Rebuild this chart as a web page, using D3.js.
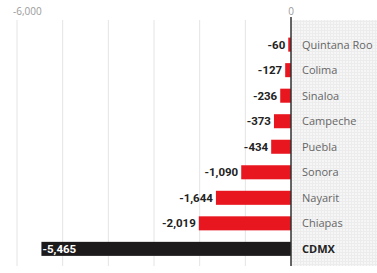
<!DOCTYPE html>
<html>
<head>
<meta charset="utf-8">
<script src="https://cdn.jsdelivr.net/npm/d3@7"></script>
<style>
  html, body { margin: 0; padding: 0; background: #fff; }
  svg { display: block; }
</style>
</head>
<body>
<svg id="chart"></svg>
<script>
'use strict';

const states = ['Quintana Roo', 'Colima', 'Sinaloa', 'Campeche', 'Puebla', 'Sonora', 'Nayarit', 'Chiapas', 'CDMX'];
const values = [-60, -127, -236, -373, -434, -1090, -1644, -2019, -5465];
const gridTicks = [-6000, -5000, -4000, -3000, -2000, -1000];
const tickLabels = [-6000, 0];

const width = 377;
const height = 273;
const fmt = d3.formatLocale({decimal: '.', thousands: ',', grouping: [3], currency: ['', ''], minus: '-'}).format(',');

const svg = d3.select('#chart')
    .attr('width', width)
    .attr('height', height);

const x = d3.scaleLinear()
    .domain([-6000, 0])
    .range([17, 291]);

const y = d3.scaleBand()
    .domain(states)
    .range([32, 261.5])
    .paddingInner(0.45)
    .paddingOuter(0.22);

// dotted panel on the right
const defs = svg.append('defs');
const pat = defs.append('pattern')
    .attr('id', 'dots')
    .attr('width', 3)
    .attr('height', 3)
    .attr('patternUnits', 'userSpaceOnUse');
pat.append('rect').attr('width', 3).attr('height', 3).attr('fill', '#f6f6f6');
pat.append('rect').attr('width', 1).attr('height', 3).attr('fill', '#ececec');
pat.append('rect').attr('width', 3).attr('height', 1).attr('fill', '#ececec');

svg.append('rect')
    .attr('x', x(0))
    .attr('y', 20)
    .attr('width', width - x(0))
    .attr('height', 246)
    .attr('fill', 'url(#dots)');

// grid
svg.append('g')
    .selectAll('line')
    .data(gridTicks)
    .join('line')
    .attr('x1', d => x(d))
    .attr('x2', d => x(d))
    .attr('y1', 20)
    .attr('y2', 266)
    .attr('stroke', '#e4e4e4')
    .attr('stroke-width', 1);

svg.append('g')
    .attr('font-family', 'Open Sans, sans-serif')
    .attr('font-size', 10)
    .attr('fill', '#9a9a9a')
    .selectAll('text')
    .data(tickLabels)
    .join('text')
    .attr('x', d => d === 0 ? x(d) : x(d) - 4)
    .attr('y', 15)
    .attr('text-anchor', d => d === 0 ? 'middle' : 'start')
    .text(d => fmt(d));

// bars
svg.append('g')
    .selectAll('rect')
    .data(values)
    .join('rect')
    .attr('x', d => x(d))
    .attr('y', (d, i) => y(states[i]))
    .attr('width', d => x(0) - x(d))
    .attr('height', y.bandwidth())
    .attr('fill', (d, i) => states[i] === 'CDMX' ? '#1c1a1b' : '#e8161f');

// value labels
svg.append('g')
    .attr('font-family', 'Roboto, sans-serif')
    .attr('font-weight', 'bold')
    .attr('font-size', 11.5)
    .selectAll('text')
    .data(values)
    .join('text')
    .attr('x', (d, i) => states[i] === 'CDMX' ? x(d) + 1 : x(d) - 3)
    .attr('y', (d, i) => y(states[i]) + y.bandwidth() / 2)
    .attr('dy', '0.36em')
    .attr('text-anchor', (d, i) => states[i] === 'CDMX' ? 'start' : 'end')
    .attr('fill', (d, i) => states[i] === 'CDMX' ? '#ffffff' : '#222222')
    .text(d => fmt(d));

// zero axis
svg.append('line')
    .attr('x1', x(0))
    .attr('x2', x(0))
    .attr('y1', 17)
    .attr('y2', 266)
    .attr('stroke', '#333')
    .attr('stroke-width', 1.5);

// state names
svg.append('g')
    .attr('font-family', 'Open Sans, sans-serif')
    .attr('font-size', 11)
    .selectAll('text')
    .data(states)
    .join('text')
    .attr('x', x(0) + 11)
    .attr('y', d => y(d) + y.bandwidth() / 2)
    .attr('dy', '0.36em')
    .attr('fill', d => d === 'CDMX' ? '#222' : '#666')
    .attr('font-weight', d => d === 'CDMX' ? 'bold' : 'normal')
    .text(d => d);
</script>
</body>
</html>
